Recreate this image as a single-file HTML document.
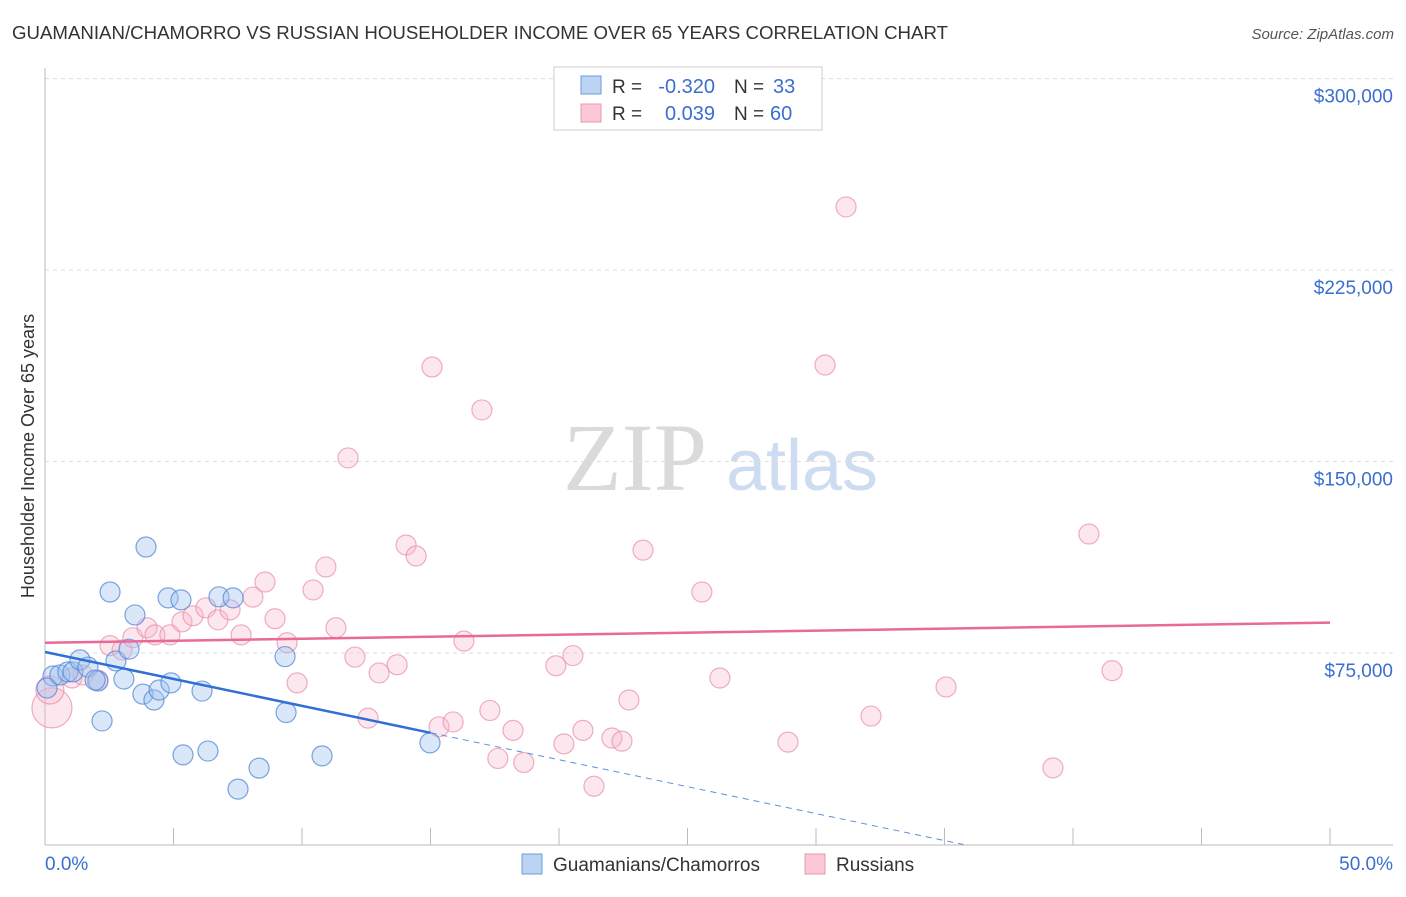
<!DOCTYPE html>
<html><head><meta charset="utf-8"><style>
body{margin:0;background:#fff;font-family:"Liberation Sans",sans-serif;}
</style></head><body>
<svg id="chart" width="1406" height="892" xmlns="http://www.w3.org/2000/svg">
<text x="12" y="39" font-size="18" fill="#333" textLength="936" lengthAdjust="spacingAndGlyphs">GUAMANIAN/CHAMORRO VS RUSSIAN HOUSEHOLDER INCOME OVER 65 YEARS CORRELATION CHART</text>
<text x="1394" y="39" font-size="15" fill="#555" font-style="italic" text-anchor="end">Source: ZipAtlas.com</text>
<g>
<text x="635" y="490" font-size="96" fill="#dadada" font-family="Liberation Serif,serif" text-anchor="middle">ZIP</text>
<text x="802" y="490" font-size="72" fill="#cddcf0" text-anchor="middle">atlas</text>
</g>
<g id="grid"></g>
<g id="axes"></g>
<g id="marks"></g>
<text transform="translate(34,456) rotate(-90)" font-size="18" fill="#333" text-anchor="middle">Householder Income Over 65 years</text>
<g>
<rect x="554" y="67" width="268" height="63" fill="#fff" stroke="#ccc"/>
<rect x="581" y="76" width="20" height="18" fill="#bcd4f4" stroke="#6d9be0"/>
<rect x="581" y="104" width="20" height="18" fill="#fbc8d6" stroke="#ec97b0"/>
<text x="612" y="93" font-size="19" fill="#333">R =</text>
<text x="715" y="93" font-size="20" fill="#3a6fd0" text-anchor="end">-0.320</text>
<text x="734" y="93" font-size="19" fill="#333">N =</text>
<text x="773" y="93" font-size="20" fill="#3a6fd0">33</text>
<text x="612" y="120" font-size="19" fill="#333">R =</text>
<text x="715" y="120" font-size="20" fill="#3a6fd0" text-anchor="end">0.039</text>
<text x="734" y="120" font-size="19" fill="#333">N =</text>
<text x="770" y="120" font-size="20" fill="#3a6fd0">60</text>
</g>
<g>
<rect x="522" y="854" width="20" height="20" fill="#bcd4f4" stroke="#6d9be0"/>
<text x="553" y="871" font-size="19" fill="#333">Guamanians/Chamorros</text>
<rect x="805" y="854" width="20" height="20" fill="#fbc8d6" stroke="#ec97b0"/>
<text x="836" y="871" font-size="19" fill="#333">Russians</text>
</g>
</svg>
<script>
const yTicks=[75000,150000,225000,300000];
const yTickLabels=["$75,000","$150,000","$225,000","$300,000"];
const xTickVals=[0,5,10,15,20,25,30,35,40,45,50];
const blueX=[0.31,0.08,0.58,0.89,1.09,1.36,1.67,2.06,2.53,2.76,3.07,3.27,3.50,3.81,3.93,4.24,4.44,4.79,4.90,5.29,6.11,6.34,6.77,7.32,7.51,8.33,9.34,9.38,10.78,14.98,5.37,2.22,1.95];
const blueY=[66.0,61.3,66.4,67.6,67.6,72.3,69.5,64.0,98.9,71.9,64.8,76.5,89.9,58.9,116.5,56.6,60.5,96.6,63.3,95.8,60.1,36.6,97.0,96.6,21.7,29.9,73.6,51.7,34.7,39.8,35.1,48.4,64.4];
const pinkX=[0.27,0.19,1.05,1.48,2.06,2.53,3.00,3.42,3.97,4.28,4.86,5.33,5.76,6.26,6.73,7.20,7.63,8.09,8.56,8.95,9.42,9.81,10.43,10.93,11.32,11.79,12.06,12.57,13.00,13.70,14.05,14.44,15.06,15.33,15.88,16.30,17.00,17.31,17.62,18.21,18.63,19.88,20.19,20.54,20.93,21.36,22.06,22.45,22.72,23.27,25.56,26.26,28.91,30.35,31.17,32.14,35.06,39.22,40.62,41.52];
const pinkY=[53.5,60.5,65.2,66.4,64.4,77.9,76.2,81.0,84.9,82.1,82.1,87.2,89.6,92.7,88.0,91.9,82.1,96.9,102.8,88.4,79.0,63.3,99.7,108.7,84.9,151.4,73.4,49.5,67.2,70.4,117.3,113.0,187.0,46.1,48.0,79.7,170.2,52.5,33.7,44.7,32.1,70.0,39.4,74.0,44.7,22.8,41.7,40.5,56.6,115.3,98.9,65.2,40.1,187.8,249.7,50.3,61.7,30.0,121.6,68.1];
const pinkR=[20,14];
const blueFit=[75.4,-2.11];
const pinkFit=[79.0,0.158];

const NS="http://www.w3.org/2000/svg";
const X0=45,X1=1330,Y0=844.5,PXK=191.5/75;
const xs=v=>X0+(v/50)*(X1-X0);
const ys=k=>Y0-k*PXK;
function mk(t,a,p){const e=document.createElementNS(NS,t);for(const k in a)e.setAttribute(k,a[k]);p.appendChild(e);return e;}
const grid=document.getElementById('grid'),axes=document.getElementById('axes'),marks=document.getElementById('marks');
yTicks.forEach((v,i)=>{
 const y=ys(v/1000);
 const l=mk('line',{x1:45,x2:1393,y1:y,y2:y,stroke:'#ddd','stroke-dasharray':'4,4'},grid);
 
 
 const t=mk('text',{x:1393,y:y+24,'font-size':19,fill:'#3a6fd0','text-anchor':'end'},axes);
 t.textContent=yTickLabels[i];
 
 
});
let a=mk('line',{x1:45,x2:45,y1:68,y2:845,stroke:'#bbb'},axes);


a=mk('line',{x1:45,x2:1393,y1:845,y2:845,stroke:'#bbb'},axes);


xTickVals.forEach(v=>{
 const x=xs(v);
 const t=mk('line',{x1:x,x2:x,y1:828,y2:845,stroke:'#bbb'},axes);
 
 
});
let xl=mk('text',{x:45,y:870,'font-size':19,fill:'#3a6fd0'},axes);xl.textContent='0.0%';


xl=mk('text',{x:1393,y:870,'font-size':19,fill:'#3a6fd0','text-anchor':'end'},axes);xl.textContent='50.0%';



pinkX.forEach((v,i)=>{
 const c=mk('circle',{cx:xs(v),cy:ys(pinkY[i]),r:pinkR[i]||10,fill:'rgba(248,180,202,0.32)',stroke:'rgba(232,140,170,0.7)','stroke-width':1.2},marks);
 
 
});
blueX.forEach((v,i)=>{
 const c=mk('circle',{cx:xs(v),cy:ys(blueY[i]),r:10,fill:'rgba(160,196,240,0.4)',stroke:'rgba(80,135,215,0.75)','stroke-width':1.2},marks);
 
 
});
let ln=mk('line',{x1:xs(0),y1:ys(pinkFit[0]),x2:xs(50),y2:ys(pinkFit[0]+pinkFit[1]*50),stroke:'#e8699a','stroke-width':2.5},marks);


ln=mk('line',{x1:xs(0),y1:ys(blueFit[0]),x2:xs(15),y2:ys(blueFit[0]+blueFit[1]*15),stroke:'#2f6fd6','stroke-width':2.5},marks);


const xe=-blueFit[0]/blueFit[1];
ln=mk('line',{x1:xs(15),y1:ys(blueFit[0]+blueFit[1]*15),x2:xs(xe),y2:ys(0),stroke:'#5d8fdb','stroke-width':1,'stroke-dasharray':'6,5'},marks);


</script>
</body></html>
